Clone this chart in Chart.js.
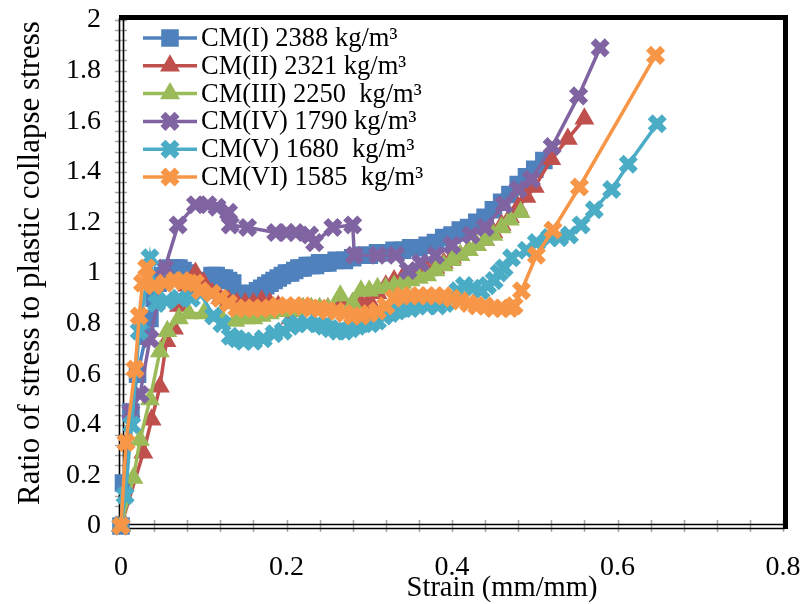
<!DOCTYPE html>
<html>
<head>
<meta charset="utf-8">
<script src="https://cdn.jsdelivr.net/npm/chart.js@4/dist/chart.umd.min.js"></script>
<style>
  html, body { margin: 0; padding: 0; background: #fff; }
</style>
</head>
<body>
<canvas id="chart" width="802" height="604"></canvas>
<script>
// series labels
const seriesNames = [
  'CM(I) 2388 kg/m³',
  'CM(II) 2321 kg/m³',
  'CM(III) 2250  kg/m³',
  'CM(IV) 1790 kg/m³',
  'CM(V) 1680  kg/m³',
  'CM(VI) 1585  kg/m³'
];

// CM(I)
const cm1Strain = [0, 0.003, 0.012, 0.02, 0.03, 0.035, 0.04, 0.045, 0.05, 0.055, 0.06, 0.065, 0.07, 0.075, 0.08, 0.085, 0.09, 0.095, 0.1, 0.105, 0.11, 0.115, 0.12, 0.125, 0.13, 0.135, 0.14, 0.143, 0.15, 0.155, 0.16, 0.165, 0.17, 0.175, 0.18, 0.185, 0.19, 0.195, 0.2, 0.205, 0.21, 0.215, 0.22, 0.225, 0.23, 0.235, 0.24, 0.245, 0.25, 0.26, 0.27, 0.28, 0.29, 0.3, 0.31, 0.32, 0.33, 0.34, 0.35, 0.36, 0.37, 0.38, 0.39, 0.4, 0.41, 0.42, 0.43, 0.44, 0.45, 0.46, 0.47, 0.48, 0.49, 0.5, 0.511];
const cm1Ratio = [0, 0.17, 0.45, 0.6, 0.75, 0.82, 0.9, 0.96, 0.99, 1.01, 1.02, 1.02, 1.02, 1.01, 1.0, 0.97, 0.95, 0.94, 0.95, 0.97, 0.99, 0.99, 0.98, 0.98, 0.97, 0.96, 0.92, 0.87, 0.89, 0.91, 0.92, 0.93, 0.94, 0.95, 0.96, 0.97, 0.98, 0.99, 1.0, 1.0, 1.01, 1.02, 1.02, 1.03, 1.03, 1.03, 1.04, 1.04, 1.04, 1.05, 1.05, 1.06, 1.07, 1.07, 1.08, 1.08, 1.09, 1.09, 1.1, 1.1, 1.11, 1.12, 1.14, 1.15, 1.17, 1.18, 1.2, 1.22, 1.25, 1.28, 1.31, 1.35, 1.38, 1.41, 1.445];

// CM(II)
const cm2Strain = [0, 0.027, 0.037, 0.047, 0.055, 0.064, 0.07, 0.08, 0.09, 0.1, 0.11, 0.12, 0.13, 0.14, 0.15, 0.16, 0.17, 0.18, 0.19, 0.2, 0.205, 0.21, 0.22, 0.23, 0.24, 0.25, 0.26, 0.27, 0.28, 0.29, 0.3, 0.31, 0.32, 0.33, 0.34, 0.35, 0.36, 0.37, 0.38, 0.39, 0.4, 0.41, 0.42, 0.43, 0.44, 0.45, 0.46, 0.47, 0.48, 0.49, 0.5, 0.52, 0.54, 0.56];
const cm2Ratio = [0, 0.29, 0.42, 0.55, 0.73, 0.78, 0.87, 0.95, 1.0, 0.96, 0.92, 0.9, 0.89, 0.88, 0.88, 0.88, 0.89, 0.88, 0.87, 0.85, 0.82, 0.85, 0.86, 0.86, 0.86, 0.86, 0.87, 0.87, 0.88, 0.88, 0.89, 0.92, 0.95, 0.97, 0.98, 0.99, 1.0, 1.01, 1.02, 1.04, 1.06, 1.07, 1.09, 1.11, 1.13, 1.16, 1.19, 1.22, 1.26, 1.3, 1.34, 1.45, 1.53, 1.61];

// CM(III)
const cm3Strain = [0, 0.015, 0.023, 0.035, 0.047, 0.056, 0.07, 0.082, 0.1, 0.12, 0.138, 0.15, 0.16, 0.17, 0.18, 0.19, 0.2, 0.21, 0.22, 0.23, 0.24, 0.25, 0.265, 0.28, 0.29, 0.3, 0.31, 0.32, 0.33, 0.34, 0.35, 0.36, 0.37, 0.38, 0.39, 0.4, 0.41, 0.42, 0.43, 0.44, 0.45, 0.46, 0.47, 0.483];
const cm3Ratio = [0, 0.19, 0.34, 0.5, 0.69, 0.77, 0.82, 0.84, 0.84, 0.83, 0.81, 0.82, 0.82, 0.83, 0.84, 0.85, 0.85, 0.85, 0.86, 0.86, 0.86, 0.86, 0.91, 0.88, 0.93, 0.93, 0.94, 0.94, 0.95, 0.96, 0.97, 0.98, 0.99, 1.01, 1.03, 1.05, 1.07, 1.09, 1.11, 1.13, 1.15, 1.18, 1.21, 1.24];

// CM(IV)
const cm4Strain = [0, 0.012, 0.023, 0.035, 0.053, 0.069, 0.09, 0.105, 0.116, 0.13, 0.132, 0.153, 0.187, 0.2, 0.211, 0.228, 0.234, 0.256, 0.28, 0.282, 0.31, 0.332, 0.347, 0.362, 0.38, 0.4, 0.423, 0.44, 0.463, 0.48, 0.496, 0.521, 0.553, 0.579];
const cm4Ratio = [0, 0.45, 0.52, 0.74, 1.02, 1.19, 1.27, 1.27, 1.26, 1.24, 1.19, 1.18, 1.16, 1.16, 1.16, 1.15, 1.12, 1.18, 1.19, 1.07, 1.07, 1.07, 1.01, 1.04, 1.07, 1.11, 1.15, 1.18, 1.27, 1.33, 1.37, 1.5, 1.7, 1.89];

// CM(V)
const cm5Strain = [0, 0.005, 0.013, 0.022, 0.035, 0.043, 0.055, 0.07, 0.085, 0.096, 0.112, 0.122, 0.132, 0.14, 0.148, 0.16, 0.172, 0.185, 0.196, 0.205, 0.213, 0.225, 0.238, 0.245, 0.253, 0.262, 0.27, 0.278, 0.286, 0.294, 0.302, 0.31, 0.318, 0.326, 0.334, 0.342, 0.35, 0.359, 0.37, 0.383, 0.392, 0.4, 0.407, 0.415, 0.425, 0.435, 0.443, 0.451, 0.457, 0.463, 0.472, 0.49, 0.502, 0.518, 0.53, 0.542, 0.556, 0.572, 0.593, 0.613, 0.648];
const cm5Ratio = [0, 0.12, 0.4, 0.77, 1.06, 0.88, 0.89, 0.9, 0.9, 0.92, 0.83, 0.8, 0.75, 0.74, 0.73, 0.73, 0.74, 0.76, 0.77, 0.79, 0.8, 0.8, 0.8, 0.79, 0.78, 0.77, 0.77, 0.78, 0.79, 0.8, 0.8, 0.81, 0.83, 0.84, 0.85, 0.86, 0.86, 0.87, 0.87, 0.87, 0.88, 0.9, 0.93, 0.95, 0.94, 0.93, 0.95, 0.97, 1.0, 1.02, 1.06, 1.09, 1.12, 1.14, 1.14, 1.15, 1.19, 1.25, 1.33, 1.43, 1.59];

// CM(VI)
const cm6Strain = [0, 0.006, 0.017, 0.022, 0.026, 0.031, 0.04, 0.053, 0.065, 0.074, 0.083, 0.09, 0.096, 0.11, 0.12, 0.13, 0.14, 0.15, 0.16, 0.17, 0.18, 0.19, 0.2, 0.21, 0.22, 0.23, 0.24, 0.25, 0.26, 0.27, 0.28, 0.29, 0.3, 0.31, 0.32, 0.33, 0.34, 0.35, 0.36, 0.37, 0.38, 0.39, 0.4, 0.41, 0.42, 0.43, 0.44, 0.45, 0.46, 0.47, 0.475, 0.484, 0.502, 0.522, 0.554, 0.646];
const cm6Ratio = [0, 0.33, 0.62, 0.83, 0.96, 1.02, 0.95, 0.96, 0.97, 0.97, 0.96, 0.96, 0.93, 0.92, 0.9, 0.88, 0.86, 0.86, 0.86, 0.86, 0.86, 0.87, 0.87, 0.87, 0.87, 0.86, 0.86, 0.85, 0.85, 0.84, 0.83, 0.83, 0.84, 0.85, 0.87, 0.9, 0.91, 0.91, 0.91, 0.91, 0.91, 0.91, 0.9, 0.89, 0.88, 0.87, 0.87, 0.86, 0.86, 0.86, 0.87, 0.93, 1.07, 1.17, 1.34, 1.86];

// tick labels
const xTickLabels = ['0', '0.2', '0.4', '0.6', '0.8'];
const yTickLabels = ['0', '0.2', '0.4', '0.6', '0.8', '1', '1.2', '1.4', '1.6', '1.8', '2'];

const allStrain = [cm1Strain, cm2Strain, cm3Strain, cm4Strain, cm5Strain, cm6Strain];
const allRatio = [cm1Ratio, cm2Ratio, cm3Ratio, cm4Ratio, cm5Ratio, cm6Ratio];

const colors = ['#4F81BD', '#C0504D', '#9BBB59', '#8064A2', '#4BACC6', '#F79646'];
const markers = [
  { style: 'rect', radius: 11, border: 2 },
  { style: 'triangle', radius: 9.5, border: 2 },
  { style: 'triangle', radius: 9.5, border: 2 },
  { style: 'crossRot', radius: 10, border: 7 },
  { style: 'crossRot', radius: 10, border: 7 },
  { style: 'crossRot', radius: 10, border: 7 }
];
const serif = '"Liberation Serif", "Times New Roman", serif';

const datasets = seriesNames.map((name, i) => ({
  label: name,
  data: allStrain[i].map((s, k) => ({ x: s, y: allRatio[i][k] })),
  borderColor: colors[i],
  backgroundColor: colors[i],
  borderWidth: 3.5,
  tension: 0,
  pointStyle: markers[i].style,
  pointRadius: markers[i].radius,
  pointBorderWidth: markers[i].border,
  pointBackgroundColor: colors[i],
  pointBorderColor: colors[i],
  clip: false,
  order: 6 - i
}));

function drawMarker(ctx, m, color, x, y) {
  const r = m.radius;
  ctx.save();
  ctx.fillStyle = color;
  ctx.strokeStyle = color;
  ctx.lineWidth = m.border;
  ctx.beginPath();
  if (m.style === 'rect') {
    const s = r * Math.SQRT1_2;
    ctx.rect(x - s, y - s, 2 * s, 2 * s);
    ctx.fill();
    ctx.stroke();
  } else if (m.style === 'triangle') {
    let a = 0;
    ctx.moveTo(x + Math.sin(a) * r, y - Math.cos(a) * r);
    a += 2 * Math.PI / 3;
    ctx.lineTo(x + Math.sin(a) * r, y - Math.cos(a) * r);
    a += 2 * Math.PI / 3;
    ctx.lineTo(x + Math.sin(a) * r, y - Math.cos(a) * r);
    ctx.closePath();
    ctx.fill();
    ctx.stroke();
  } else {
    const o = r * Math.SQRT1_2;
    ctx.moveTo(x - o, y - o); ctx.lineTo(x + o, y + o);
    ctx.moveTo(x + o, y - o); ctx.lineTo(x - o, y + o);
    ctx.stroke();
  }
  ctx.restore();
}

// axes frame with minor ticks, Excel style
const framePlugin = {
  id: 'frame',
  beforeDatasetsDraw(chart) {
    const { ctx, chartArea: a, scales } = chart;
    const xs = scales.x, ys = scales.y;
    ctx.save();
    ctx.strokeStyle = '#a6a6a6';
    ctx.lineWidth = 1.5;
    ctx.beginPath();
    for (let k = 0; k <= 20; k++) {
      const px = Math.round(xs.getPixelForValue(k * 0.04)) + 0.5;
      ctx.moveTo(px, a.bottom - 6);
      ctx.lineTo(px, a.bottom + 6);
    }
    for (let k = 0; k <= 50; k++) {
      const py = Math.round(ys.getPixelForValue(k * 0.04)) + 0.5;
      ctx.moveTo(a.left - 6, py);
      ctx.lineTo(a.left + 6, py);
    }
    ctx.stroke();

    ctx.strokeStyle = '#000';
    ctx.lineWidth = 1.6;
    ctx.beginPath();
    ctx.moveTo(a.left - 1.5, a.top - 2);
    ctx.lineTo(a.left - 1.5, a.bottom + 3);
    ctx.moveTo(a.left + 2.5, a.top);
    ctx.lineTo(a.left + 2.5, a.bottom - 1);
    ctx.moveTo(a.left - 1.5, a.bottom + 2.5);
    ctx.lineTo(a.right + 2, a.bottom + 2.5);
    ctx.moveTo(a.left + 2.5, a.bottom - 1.5);
    ctx.lineTo(a.right, a.bottom - 1.5);
    ctx.stroke();

    ctx.lineWidth = 5;
    ctx.beginPath();
    ctx.moveTo(a.left - 2, a.top - 2.5);
    ctx.lineTo(a.right + 2.5, a.top - 2.5);
    ctx.lineTo(a.right + 2.5, a.bottom + 3);
    ctx.stroke();
    ctx.restore();
  }
};

// legend inside plot: line with marker, then text
const legendPlugin = {
  id: 'innerLegend',
  afterDraw(chart) {
    const ctx = chart.ctx;
    ctx.save();
    ctx.font = '26.5px ' + serif;
    ctx.textBaseline = 'middle';
    ctx.textAlign = 'left';
    seriesNames.forEach((name, i) => {
      const y = 38 + i * 27.8;
      ctx.strokeStyle = colors[i];
      ctx.lineWidth = 3.5;
      ctx.beginPath();
      ctx.moveTo(143, y);
      ctx.lineTo(197, y);
      ctx.stroke();
      drawMarker(ctx, markers[i], colors[i], 170, y);
      ctx.fillStyle = '#000';
      ctx.fillText(name, 201, y + 1);
    });
    ctx.restore();
  }
};

const titlePlugin = {
  id: 'axisTitles',
  afterDraw(chart) {
    const ctx = chart.ctx;
    ctx.save();
    ctx.fillStyle = '#000';
    ctx.textAlign = 'center';
    ctx.textBaseline = 'middle';
    ctx.font = '28.5px ' + serif;
    ctx.fillText('Strain (mm/mm)', 502, 589);
    ctx.translate(31, 263);
    ctx.rotate(-Math.PI / 2);
    ctx.font = '31px ' + serif;
    ctx.fillText('Ratio of stress to plastic collapse stress', 0, 0);
    ctx.restore();
  }
};

new Chart(document.getElementById('chart'), {
  type: 'line',
  data: { datasets },
  options: {
    responsive: false,
    animation: false,
    layout: { padding: { top: 20, right: 19, left: 0, bottom: 0 } },
    plugins: {
      legend: { display: false },
      tooltip: { enabled: false }
    },
    scales: {
      x: {
        type: 'linear',
        min: 0,
        max: 0.8,
        afterFit(scale) {
          scale.height = 78;
          scale.paddingLeft = 0;
          scale.paddingRight = 0;
        },
        grid: { display: false, drawTicks: false },
        border: { display: false },
        ticks: {
          stepSize: 0.2,
          padding: 25,
          color: '#000',
          font: { family: serif, size: 28 },
          maxRotation: 0,
          callback: (v, i) => xTickLabels[i]
        }
      },
      y: {
        type: 'linear',
        min: 0,
        max: 2,
        afterFit(scale) {
          scale.width = 121;
          scale.paddingTop = 0;
          scale.paddingBottom = 0;
        },
        grid: { display: false, drawTicks: false },
        border: { display: false },
        ticks: {
          stepSize: 0.2,
          padding: 20,
          color: '#000',
          font: { family: serif, size: 28 },
          callback: (v, i) => yTickLabels[i]
        }
      }
    }
  },
  plugins: [framePlugin, legendPlugin, titlePlugin]
});
</script>
</body>
</html>
